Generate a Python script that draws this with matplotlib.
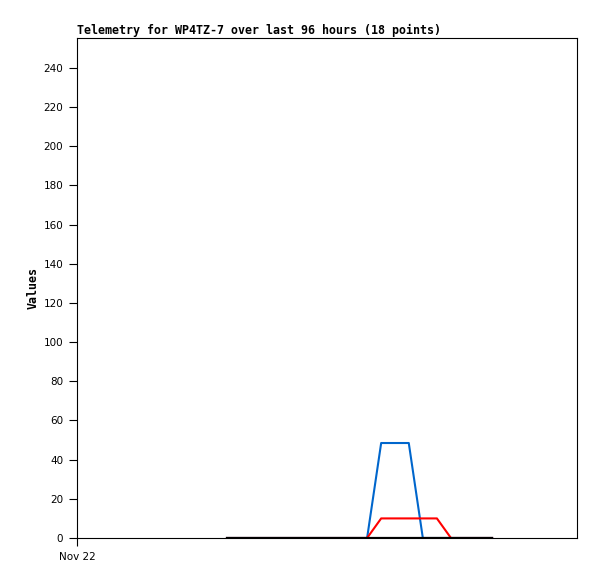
import matplotlib
matplotlib.use("Agg")
import matplotlib.pyplot as plt

# hours since Nov 22 00:00
hours = [28.8, 31.5, 34.2, 36.9, 39.6, 42.3, 45.0, 47.7, 50.4,
         55.7, 58.4, 63.7, 66.4, 69.1, 71.8, 74.5, 77.2, 79.7]
blue_vals = [0, 0, 0, 0, 0, 0, 0, 0, 0, 0, 48.5, 48.5, 0, 0, 0, 0, 0, 0]
red_vals = [0, 0, 0, 0, 0, 0, 0, 0, 0, 0, 10, 10, 10, 10, 0, 0, 0, 0]
black_vals = [0] * 18

x_ticks = [0]
x_tick_labels = ["Nov 22"]
y_ticks = list(range(0, 241, 20))

fig = plt.figure(figsize=(5.97, 5.79), dpi=100)
ax = fig.add_axes([77 / 597, 1 - 538 / 579, 500 / 597, 500 / 579])

ax.plot(hours, blue_vals, color="#0066cc", lw=1.5, zorder=2)
ax.plot(hours, red_vals, color="#ff0000", lw=1.5, zorder=2)
ax.plot(hours, black_vals, color="black", lw=1.6, zorder=3)

ax.set_xlim(0, 96)
ax.set_ylim(0, 255.3)
ax.set_xticks(x_ticks)
ax.set_xticklabels(x_tick_labels)
ax.set_yticks(y_ticks)
ax.tick_params(direction="out", length=6, width=0.8, labelsize=7.5,
               colors="black", pad=4)
for s in ax.spines.values():
    s.set_linewidth(0.8)

ax.set_title("Telemetry for WP4TZ-7 over last 96 hours (18 points)",
             loc="left", family="DejaVu Sans Mono", fontweight="bold",
             fontsize=8.4, pad=3)
ax.set_ylabel("Values", family="DejaVu Sans Mono", fontweight="bold",
              fontsize=8.4, labelpad=3)

fig.savefig("out.png", dpi=100)
